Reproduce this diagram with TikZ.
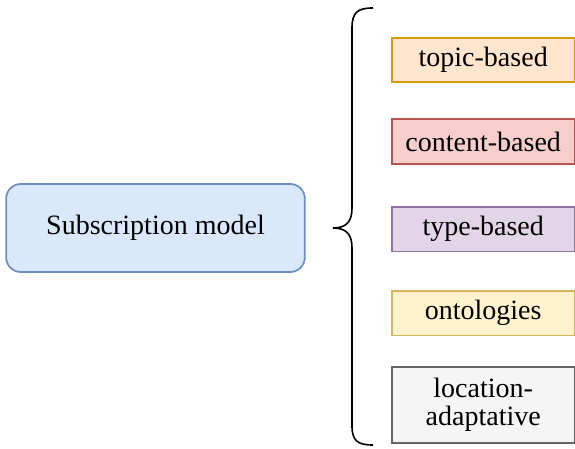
\documentclass[tikz,border=0pt]{standalone}
\usepackage{fontspec}
\setmainfont{Liberation Serif}
\begin{document}
\begin{tikzpicture}[x=0.75pt,y=-0.75pt,
  box/.style={draw, line width=1.3pt, anchor=north west, inner sep=0pt, align=center,
    font=\fontsize{21}{20.5}\selectfont},
  main/.style={draw=mainline, fill=mainfill, line width=1.3pt, rounded corners=11pt, inner sep=0pt,
    font=\fontsize{21}{25}\selectfont}]
\definecolor{mainfill}{HTML}{DAE8FC}\definecolor{mainline}{HTML}{6C8EBF}
\definecolor{tfill}{HTML}{FFE6CC}\definecolor{tline}{HTML}{D79B00}
\definecolor{cfill}{HTML}{F8CECC}\definecolor{cline}{HTML}{B85450}
\definecolor{yfill}{HTML}{E1D5E7}\definecolor{yline}{HTML}{9673A6}
\definecolor{ofill}{HTML}{FFF2CC}\definecolor{oline}{HTML}{D6B656}
\definecolor{lfill}{HTML}{F5F5F5}\definecolor{lline}{HTML}{666666}
\useasboundingbox (0,0) rectangle (575,449);
\node[main, minimum width=224pt, minimum height=66pt] (sub) at (155.5,228) {Subscription model};
\node[box, draw=tline, fill=tfill, minimum width=137pt, minimum height=33pt] (topic) at (391,37) {topic-based};
\node[box, draw=cline, fill=cfill, minimum width=137pt, minimum height=34pt] (content) at (391,118) {content-based};
\node[box, draw=yline, fill=yfill, minimum width=137pt, minimum height=33.5pt] (type) at (391,206) {type-based};
\node[box, draw=oline, fill=ofill, minimum width=137pt, minimum height=33.5pt] (onto) at (391,290) {ontologies};
\node[box, draw=lline, fill=lfill, minimum width=137pt, minimum height=57pt] (loc) at (391,366) {location-\\adaptative};
\coordinate (tip) at (333,228);
\draw[line width=1.2pt] (373,8) .. controls (358,8) and (352,12) .. (352,28)
  -- (352,208) .. controls (352,222) and (346,228) .. (tip)
  .. controls (346,228) and (352,234) .. (352,248)
  -- (352,426) .. controls (352,441) and (358,445) .. (373,445);
\end{tikzpicture}
\end{document}
